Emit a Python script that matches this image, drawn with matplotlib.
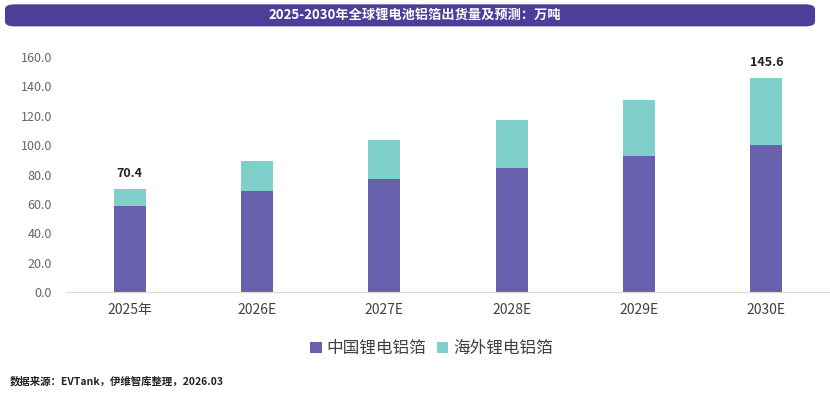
import matplotlib.pyplot as plt
from matplotlib.patches import FancyBboxPatch

plt.rcParams['font.family'] = ['Noto Sans CJK SC', 'DejaVu Sans']

years = ['2025年', '2026E', '2027E', '2028E', '2029E', '2030E']
china = [58.6, 69.0, 77.0, 84.6, 92.4, 100.3]
overseas = [11.8, 20.5, 26.3, 32.7, 38.4, 45.3]
labels = {0: '70.4', 5: '145.6'}
ticks = [0, 20, 40, 60, 80, 100, 120, 140, 160]

c_china = '#6861ad'
c_over = '#7fcfca'

fig = plt.figure(figsize=(8.3, 3.94), dpi=100)

# title banner
banner = FancyBboxPatch((0.006, 0.933), 0.976, 0.056, boxstyle='round,pad=0,rounding_size=0.012',
                        transform=fig.transFigure, fc='#4b3f9a', ec='none')
fig.patches.append(banner)
fig.text(0.5, 0.962, '2025-2030年全球锂电池铝箔出货量及预测：万吨', ha='center', va='center',
         color='white', fontsize=9.5, fontweight='bold')

ax = fig.add_axes([66 / 830, 1 - 292 / 394, 764 / 830, 235 / 394])
x = range(len(years))
ax.bar(x, china, width=0.25, color=c_china, label='中国锂电铝箔')
ax.bar(x, overseas, width=0.25, bottom=china, color=c_over, label='海外锂电铝箔')
for i, t in labels.items():
    ax.text(i, china[i] + overseas[i] + 6, t, ha='center', va='bottom', fontsize=9,
            fontweight='bold', color='#222222')

ax.set_xlim(-0.5, 5.5)
ax.set_ylim(0, 160)
ax.set_yticks(ticks)
ax.set_yticklabels([f'{t:.1f}' for t in ticks], color='#666666', fontsize=9)
ax.set_xticks(list(x))
ax.set_xticklabels(years, color='#404040', fontsize=10)
ax.tick_params(length=0, pad=8)
ax.tick_params(axis='y', pad=10)
for s in ['top', 'right', 'left']:
    ax.spines[s].set_visible(False)
ax.spines['bottom'].set_color('#d9d9d9')

fig.legend(loc='center', bbox_to_anchor=(0.52, 0.115), ncol=2, frameon=False, fontsize=12,
           handlelength=0.7, handleheight=0.7, handletextpad=0.3, columnspacing=0.6,
           labelcolor='#404040')

fig.text(0.012, 0.032, '数据来源：EVTank，伊维智库整理，2026.03', fontsize=7.5, fontweight='bold',
         color='#222222', va='center')

plt.savefig('out.png', dpi=100)
